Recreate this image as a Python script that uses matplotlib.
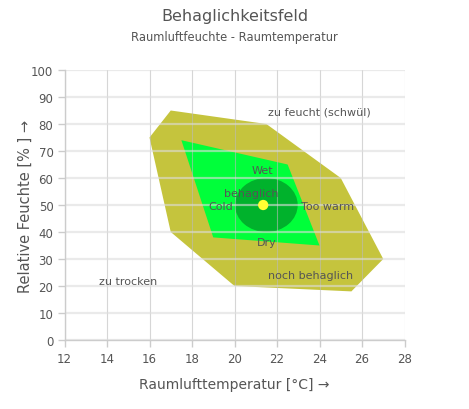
import matplotlib
matplotlib.use("Agg")
import matplotlib.pyplot as plt
from matplotlib.patches import Polygon, Ellipse

# Data
outer_x = [16, 17, 21.5, 25, 27, 25.5, 20, 17]
outer_y = [75, 85, 80, 60, 30, 18, 20, 40]
inner_x = [17.5, 22.5, 24, 19]
inner_y = [74, 65, 35, 38]
core_center = (21.5, 50)
core_size = (2.95, 20)
point_x = [21.35]
point_y = [50]
labels = ["Wet", "behaglich", "Cold", "Too warm", "Dry",
          "zu feucht (schwül)", "noch behaglich", "zu trocken"]
label_x = [21.3, 20.8, 19.35, 24.4, 21.5, 24.0, 23.6, 15.0]
label_y = [63, 54.3, 49.5, 49.5, 36.4, 84.6, 24.1, 21.7]
xticks = [12, 14, 16, 18, 20, 22, 24, 26, 28]
yticks = [0, 10, 20, 30, 40, 50, 60, 70, 80, 90, 100]

TXT = "#555555"
fig = plt.figure(figsize=(4.69, 4.10), dpi=100)
ax = fig.add_axes([64.5/469, 1-341/410, 340/469, 270/410])

ax.add_patch(Polygon(list(zip(outer_x, outer_y)), closed=True,
                     facecolor="#c2c132", edgecolor="none", alpha=0.95, zorder=1))
ax.add_patch(Polygon(list(zip(inner_x, inner_y)), closed=True,
                     facecolor="#00ff3a", edgecolor="none", zorder=2))
ax.add_patch(Ellipse(core_center, core_size[0], core_size[1],
                     facecolor="#00b22c", edgecolor="none", zorder=3))
ax.scatter(point_x, point_y, s=55, color="#ffff33", edgecolors="none", zorder=5)

for t, x, y in zip(labels, label_x, label_y):
    ax.text(x, y, t, ha="center", va="center", fontsize=8, color=TXT, zorder=6)

ax.set_xlim(12, 28)
ax.set_ylim(0, 100)
ax.set_xticks(xticks)
ax.set_yticks(yticks)
ax.tick_params(axis="both", labelsize=8.5, labelcolor=TXT, color="#cccccc",
               length=5, width=1)
ax.tick_params(axis="x", pad=4)
ax.tick_params(axis="y", pad=3)

for x in xticks:
    ax.axvline(x, color="#bbbbbb", lw=0.8, alpha=0.6, zorder=4)
for y in yticks:
    ax.axhline(y, color="#dddddd", lw=1.6, alpha=0.6, zorder=4)

for s in ["top", "right"]:
    ax.spines[s].set_visible(False)
for s in ["left", "bottom"]:
    ax.spines[s].set_color("#cccccc")
    ax.spines[s].set_linewidth(1)
    ax.spines[s].set_zorder(5)

ax.set_xlabel("Raumlufttemperatur [°C] →", fontsize=10, color=TXT)
ax.set_ylabel("Relative Feuchte [% ] →", fontsize=10.5, color=TXT)
ax.xaxis.set_label_coords(0.5, (341 - 385) / 270, transform=ax.transAxes)
ax.yaxis.set_label_coords((25 - 64.5) / 340, 0.5, transform=ax.transAxes)
ax.xaxis.label.set_va("center")
ax.yaxis.label.set_va("center")

fig.text(234.5/469, 1-16/410, "Behaglichkeitsfeld", ha="center", va="center",
         fontsize=11.5, color=TXT)
fig.text(234.5/469, 1-38/410, "Raumluftfeuchte - Raumtemperatur", ha="center",
         va="center", fontsize=8.3, color=TXT)

fig.savefig("out.png", dpi=100)
